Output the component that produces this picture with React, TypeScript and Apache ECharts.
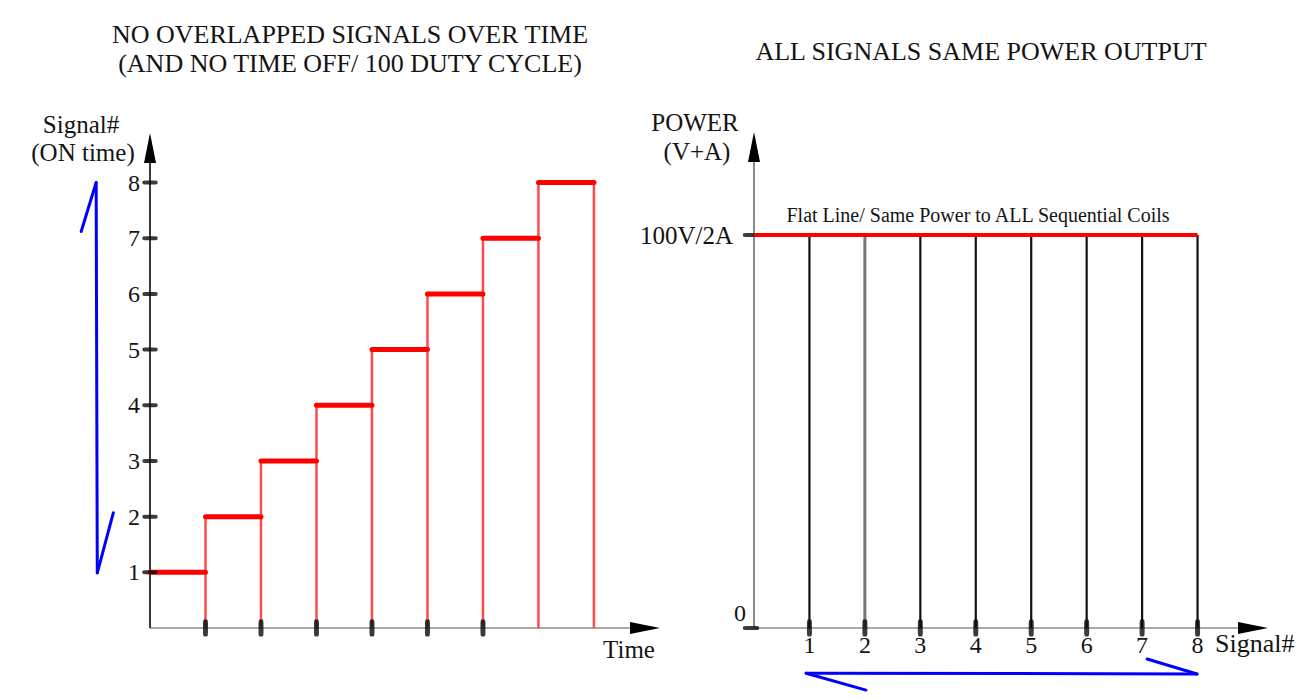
import React, { useEffect, useRef } from 'react';
import * as echarts from 'echarts';

const FONT = '"Liberation Serif", "Times New Roman", Times, serif';

// ---------- Left chart: sequential ON-time slots ----------
const slotStart = [0, 1, 2, 3, 4, 5, 6, 7];
const slotEnd = [1, 2, 3, 4, 5, 6, 7, 8];
const slotSignal = [1, 2, 3, 4, 5, 6, 7, 8];
// vertical edges of the steps (time, height)
const edgeTime = [1, 2, 3, 4, 5, 6, 7, 8];
const edgeHeight = [2, 3, 4, 5, 6, 7, 8, 8];
const timeTickMarks = [1, 2, 3, 4, 5, 6];
const signalTickMarks = [1, 2, 3, 4, 5, 6, 7, 8];
const leftXMax = 8.92;
const leftYMax = 8.62;

// ---------- Right chart: same power for all signals ----------
const signalNumbers = [1, 2, 3, 4, 5, 6, 7, 8];
const powerLevel = 100;
const powerLabel = '100V/2A';
const powerTicks = [0, 100];
const rightXMax = 9;
const rightYMax = 122.4;

// ---------- Blue hand-drawn arrows (in each chart's data units) ----------
const leftArrowX = [-1.24, -0.97, -0.95, -0.66];
const leftArrowY = [7.12, 8.0, 0.99, 2.07];
const rightArrowX = [7.09, 7.99, 0.94, 2.02];
const rightArrowY = [-7.9, -11.7, -11.5, -15.8];

const TEXT = '#141414';

const toSegments = (xs: number[], ys: number[]) =>
  xs.slice(0, -1).map((x, i) => [x, ys[i], xs[i + 1], ys[i + 1]]);

export default function App() {
  const ref = useRef<HTMLDivElement>(null);

  useEffect(() => {
    if (!ref.current) return;
    const chart = echarts.init(ref.current, null, { renderer: 'svg' });

    const txt = (text: string, x: number, y: number, size: number, align = 'center') => ({
      type: 'text',
      x,
      y,
      silent: true,
      style: {
        text,
        font: `${size}px ${FONT}`,
        fill: TEXT,
        textAlign: align,
        textVerticalAlign: 'middle',
      },
    });

    const axisLineBase = {
      show: true,
      onZero: false,
      symbol: ['none', 'triangle'],
      symbolSize: [12, 30],
      lineStyle: { color: '#000', width: 0 },
    };

    const segLine = (color: string, width: number) => ({
      color,
      width,
      type: 'solid',
    });

    const segmentRenderer = (stroke: string, lineWidth: number) => (params: any, api: any) => {
      const a = api.coord([api.value(0), api.value(1)]);
      const b = api.coord([api.value(2), api.value(3)]);
      return {
        type: 'line',
        shape: { x1: a[0], y1: a[1], x2: b[0], y2: b[1] },
        style: { stroke, lineWidth, lineCap: 'round' },
      };
    };

    const option: any = {
      animation: false,
      backgroundColor: '#fff',
      grid: [
        { left: 150, top: 148, width: 495, height: 480 },
        { left: 754, top: 147, width: 499, height: 481 },
      ],
      xAxis: [
        {
          gridIndex: 0,
          type: 'value',
          min: 0,
          max: leftXMax,
          interval: 1,
          axisLine: axisLineBase,
          axisTick: { show: false },
          axisLabel: { show: false },
          splitLine: { show: false },
        },
        {
          gridIndex: 1,
          type: 'value',
          min: 0,
          max: rightXMax,
          interval: 1,
          axisLine: axisLineBase,
          axisTick: { show: false },
          axisLabel: {
            show: true,
            margin: 5,
            fontSize: 24,
            fontFamily: FONT,
            color: TEXT,
            formatter: (v: number) => (signalNumbers.includes(v) ? String(v) : ''),
          },
          splitLine: { show: false },
        },
      ],
      yAxis: [
        {
          gridIndex: 0,
          type: 'value',
          min: 0,
          max: leftYMax,
          interval: 1,
          axisLine: axisLineBase,
          axisTick: { show: false },
          axisLabel: {
            show: true,
            margin: 10,
            fontSize: 24,
            fontFamily: FONT,
            color: TEXT,
            formatter: (v: number) => (signalTickMarks.includes(v) ? String(v) : ''),
          },
          splitLine: { show: false },
        },
        {
          gridIndex: 1,
          type: 'value',
          min: 0,
          max: rightYMax,
          interval: 100,
          axisLine: axisLineBase,
          axisTick: { show: false },
          axisLabel: {
            show: true,
            margin: 8,
            formatter: (v: number) =>
              v === 0 ? '{z|0}' : v === powerLevel ? `{h|${powerLabel}}` : '',
            rich: {
              z: { fontSize: 24, fontFamily: FONT, color: TEXT, padding: [0, 0, 30, 0] },
              h: { fontSize: 25, fontFamily: FONT, color: TEXT, padding: [0, 13, 0, 0] },
            },
          },
          splitLine: { show: false },
        },
      ],
      series: [
        // ---- left chart ----
        {
          type: 'line',
          xAxisIndex: 0,
          yAxisIndex: 0,
          data: [[0, 0], [leftXMax, 0]],
          showSymbol: false,
          symbol: 'none',
          clip: false,
          silent: true,
          z: -1,
          lineStyle: segLine('#a9a9a9', 2),
        },
        {
          type: 'line',
          xAxisIndex: 0,
          yAxisIndex: 0,
          data: [[0, 0], [0, leftYMax]],
          showSymbol: false,
          symbol: 'none',
          clip: false,
          silent: true,
          z: -1,
          lineStyle: segLine('#3a3a3a', 2),
        },
        {
          type: 'custom',
          xAxisIndex: 0,
          yAxisIndex: 0,
          silent: true,
          data: edgeTime.map((t, i) => [t, edgeHeight[i]]),
          renderItem: (params: any, api: any) => {
            const a = api.coord([api.value(0), 0]);
            const b = api.coord([api.value(0), api.value(1)]);
            return {
              type: 'line',
              shape: { x1: a[0], y1: a[1], x2: b[0], y2: b[1] },
              style: { stroke: '#ff4a4a', lineWidth: 2.5 },
            };
          },
        },
        {
          type: 'custom',
          xAxisIndex: 0,
          yAxisIndex: 0,
          silent: true,
          data: slotStart.map((s, i) => [s, slotEnd[i], slotSignal[i]]),
          renderItem: (params: any, api: any) => {
            const a = api.coord([api.value(0), api.value(2)]);
            const b = api.coord([api.value(1), api.value(2)]);
            return {
              type: 'line',
              shape: { x1: a[0], y1: a[1], x2: b[0], y2: b[1] },
              style: { stroke: '#ff0000', lineWidth: 5, lineCap: 'round' },
            };
          },
        },
        {
          type: 'scatter',
          xAxisIndex: 0,
          yAxisIndex: 0,
          silent: true,
          clip: false,
          symbol: 'roundRect',
          symbolSize: [5, 17],
          itemStyle: { color: '#0a0a0a' },
          data: timeTickMarks.map((t) => [t, 0]),
        },
        {
          type: 'scatter',
          xAxisIndex: 0,
          yAxisIndex: 0,
          silent: true,
          clip: false,
          symbol: 'roundRect',
          symbolSize: [15, 4],
          itemStyle: { color: '#0a0a0a' },
          data: signalTickMarks.map((s) => [0, s]),
        },
        {
          type: 'custom',
          xAxisIndex: 0,
          yAxisIndex: 0,
          silent: true,
          clip: false,
          data: toSegments(leftArrowX, leftArrowY),
          renderItem: segmentRenderer('#0000ff', 3),
        },
        // ---- right chart ----
        {
          type: 'line',
          xAxisIndex: 1,
          yAxisIndex: 1,
          data: [[0, 0], [rightXMax, 0]],
          showSymbol: false,
          symbol: 'none',
          clip: false,
          silent: true,
          z: -1,
          lineStyle: segLine('#a9a9a9', 2),
        },
        {
          type: 'line',
          xAxisIndex: 1,
          yAxisIndex: 1,
          data: [[0, 0], [0, rightYMax]],
          showSymbol: false,
          symbol: 'none',
          clip: false,
          silent: true,
          z: -1,
          lineStyle: segLine('#8a8a8a', 2),
        },
        {
          type: 'custom',
          xAxisIndex: 1,
          yAxisIndex: 1,
          silent: true,
          data: signalNumbers.map((n) => [n, powerLevel]),
          renderItem: (params: any, api: any) => {
            const a = api.coord([api.value(0), 0]);
            const b = api.coord([api.value(0), api.value(1)]);
            const grey = params.dataIndex === 1;
            return {
              type: 'line',
              shape: { x1: a[0], y1: a[1], x2: b[0], y2: b[1] },
              style: { stroke: grey ? '#777' : '#111', lineWidth: grey ? 3 : 2.2 },
            };
          },
        },
        {
          type: 'line',
          xAxisIndex: 1,
          yAxisIndex: 1,
          silent: true,
          clip: false,
          symbol: 'none',
          showSymbol: false,
          lineStyle: segLine('#ff0000', 4),
          data: [
            [0, powerLevel],
            [signalNumbers[signalNumbers.length - 1], powerLevel],
          ],
        },
        {
          type: 'scatter',
          xAxisIndex: 1,
          yAxisIndex: 1,
          silent: true,
          clip: false,
          symbol: 'roundRect',
          symbolSize: [5, 17],
          itemStyle: { color: '#0a0a0a' },
          data: signalNumbers.map((n) => [n, 0]),
        },
        {
          type: 'scatter',
          xAxisIndex: 1,
          yAxisIndex: 1,
          silent: true,
          clip: false,
          symbol: 'roundRect',
          symbolSize: [16, 4],
          symbolOffset: [-3, 0],
          itemStyle: { color: '#0a0a0a' },
          data: powerTicks.map((p) => [0, p]),
        },
        {
          type: 'custom',
          xAxisIndex: 1,
          yAxisIndex: 1,
          silent: true,
          clip: false,
          data: toSegments(rightArrowX, rightArrowY),
          renderItem: segmentRenderer('#0000ff', 3),
        },
      ],
      graphic: [
        txt('NO OVERLAPPED SIGNALS OVER TIME', 350, 34, 26),
        txt('(AND NO TIME OFF/ 100 DUTY CYCLE)', 350, 63, 26),
        txt('ALL SIGNALS SAME POWER OUTPUT', 981, 51, 26),
        txt('Signal#', 81, 124, 25),
        txt('(ON time)', 83, 152, 25),
        txt('POWER', 695, 122, 25),
        txt('(V+A)', 697, 151, 25),
        txt('Time', 629, 649, 25),
        txt('Signal#', 1215, 643, 26, 'left'),
        txt('Flat Line/ Same Power to ALL Sequential Coils', 978, 215, 20),
      ],
    };

    chart.setOption(option);
    return () => chart.dispose();
  }, []);

  return (
    <div
      ref={ref}
      style={{ position: 'fixed', left: 0, top: 0, width: 1300, height: 699, background: '#fff' }}
    />
  );
}
